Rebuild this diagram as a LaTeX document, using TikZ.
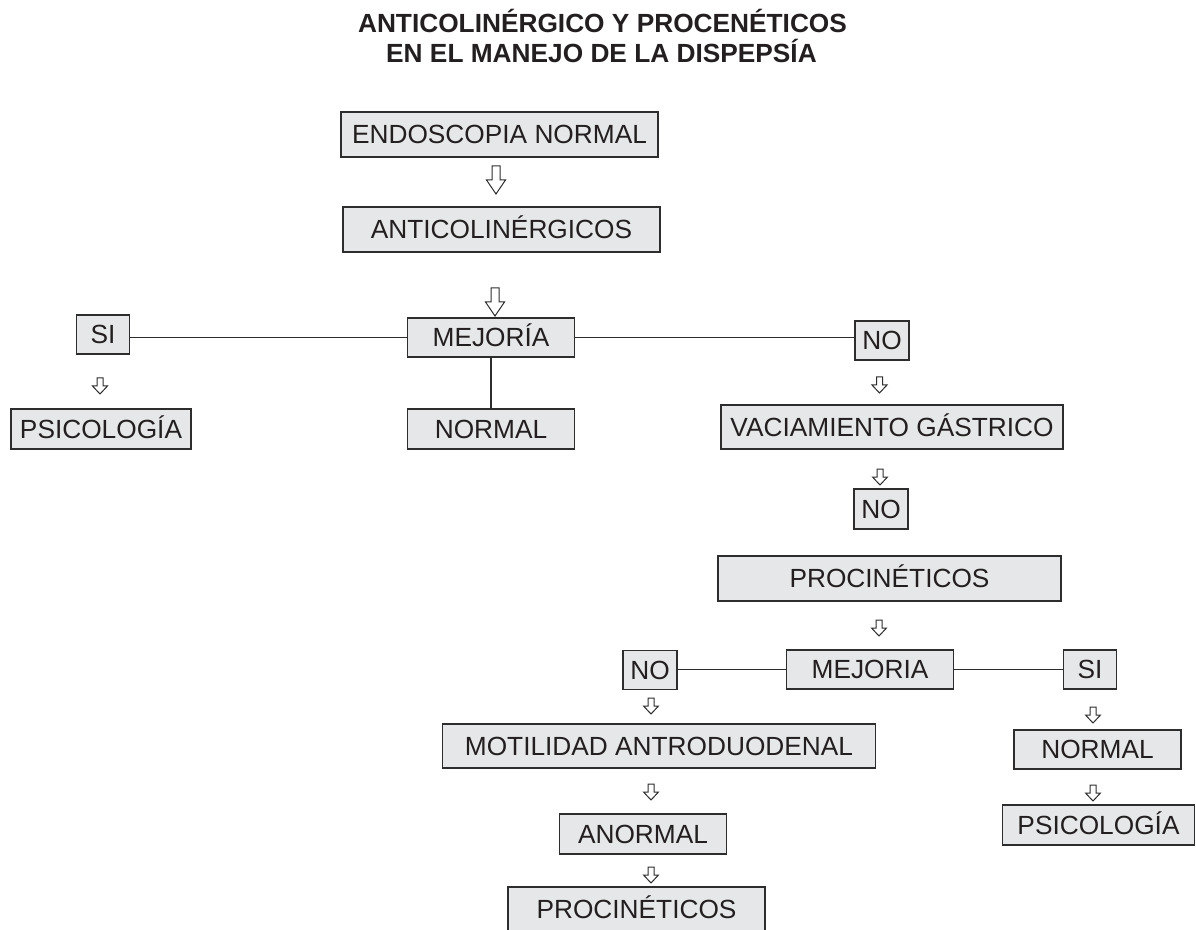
\documentclass[tikz,border=0pt]{standalone}
\usepackage{fontspec}
\setmainfont{Liberation Sans}

\definecolor{boxfill}{RGB}{230,231,232}
\definecolor{boxline}{RGB}{45,45,45}
\definecolor{inktext}{RGB}{35,31,32}

\tikzset{every picture/.style={line width=0.75pt}}
\tikzset{
	boxsize/.style 2 args={minimum width=#1*0.75pt, minimum height=#2*0.75pt},
	stepbox/.style={draw=boxline, fill=boxfill, text=inktext, inner sep=0pt, line width=0.9pt, font=\fontsize{19.7}{23}\selectfont, text height=14pt, text depth=0pt},
	topbox/.style={stepbox, line width=1.6pt},
	titletext/.style={text=inktext, inner sep=0pt, font=\bfseries\fontsize{19.7}{23}\selectfont},
	link/.style={draw=boxline, line width=0.85pt},
	pics/bigarrow/.style={code={
		\draw[draw=boxline, fill=white, line width=0.75pt] (-4,0) -- (4,0) -- (4,-14) -- (9.5,-14) -- (0,-28) -- (-9.5,-14) -- (-4,-14) -- cycle;
	}},
	pics/smallarrow/.style={code={
		\draw[draw=boxline, fill=white, line width=0.75pt] (-3,0) -- (3,0) -- (3,-8) -- (7.5,-8) -- (0,-16) -- (-7.5,-8) -- (-3,-8) -- cycle;
	}},
}

\begin{document}
\begin{tikzpicture}[x=0.75pt,y=0.75pt,yscale=-1,xscale=1]
	\useasboundingbox (0,0) rectangle (1196,930);
	
	%Title
	\node[titletext, anchor=base] (title1) at (602.5,33) {ANTICOLINÉRGICO Y PROCENÉTICOS};
	\node[titletext, anchor=base] (title2) at (601.5,63) {EN EL MANEJO DE LA DISPEPSÍA};
	
	%Top boxes
	\node[topbox, boxsize={317}{45}] (endo) at (499.5,134.5) {ENDOSCOPIA NORMAL};
	\pic at (496,166) {bigarrow};
	\node[topbox, boxsize={317}{45}] (anti) at (501.5,229.5) {ANTICOLINÉRGICOS};
	\pic at (495,288) {bigarrow};
	
	%First branch
	\node[stepbox, boxsize={53}{39}] (si1) at (103,334.5) {SI};
	\node[stepbox, boxsize={167}{39}] (mej1) at (491,337.5) {MEJORÍA};
	\node[stepbox, boxsize={54}{39}] (no1) at (882,340.5) {NO};
	\draw[link] (si1.east |- mej1.west) -- (mej1.west);
	\draw[link] (mej1.east) -- (mej1.east -| no1.west);
	\pic at (100,378) {smallarrow};
	\node[stepbox, boxsize={180}{40}] (psi1) at (101,429) {PSICOLOGÍA};
	\node[stepbox, boxsize={167}{40}] (nor1) at (491,429) {NORMAL};
	\draw[link] (mej1.south) -- (nor1.north);
	\pic at (879.5,377) {smallarrow};
	\node[stepbox, boxsize={342}{44}] (vac) at (892,427) {VACIAMIENTO GÁSTRICO};
	\pic at (880,469) {smallarrow};
	\node[stepbox, boxsize={54}{40}] (no2) at (881,509) {NO};
	\node[stepbox, boxsize={343}{45}] (proc1) at (889.5,578.5) {PROCINÉTICOS};
	\pic at (879,620) {smallarrow};
	
	%Second branch
	\node[stepbox, boxsize={54}{39}] (no3) at (650,670) {NO};
	\node[stepbox, boxsize={167}{39}] (mej2) at (870,669.5) {MEJORIA};
	\node[stepbox, boxsize={53}{39}] (si2) at (1090,669.5) {SI};
	\draw[link] (no3.east |- mej2.west) -- (mej2.west);
	\draw[link] (mej2.east) -- (si2.west);
	\pic at (651,698) {smallarrow};
	\node[stepbox, boxsize={433}{44}] (mot) at (659,746) {MOTILIDAD ANTRODUODENAL};
	\pic at (651,784) {smallarrow};
	\node[stepbox, boxsize={167}{40}] (anor) at (643,834) {ANORMAL};
	\pic at (651,867) {smallarrow};
	\node[stepbox, boxsize={257}{45}] (proc2) at (636.5,909.5) {PROCINÉTICOS};
	\pic at (1093,707) {smallarrow};
	\node[stepbox, boxsize={167}{39}] (nor2) at (1097.5,749.5) {NORMAL};
	\pic at (1093,785) {smallarrow};
	\node[stepbox, boxsize={192}{40}] (psi2) at (1098.5,825) {PSICOLOGÍA};
	
\end{tikzpicture}
\end{document}
